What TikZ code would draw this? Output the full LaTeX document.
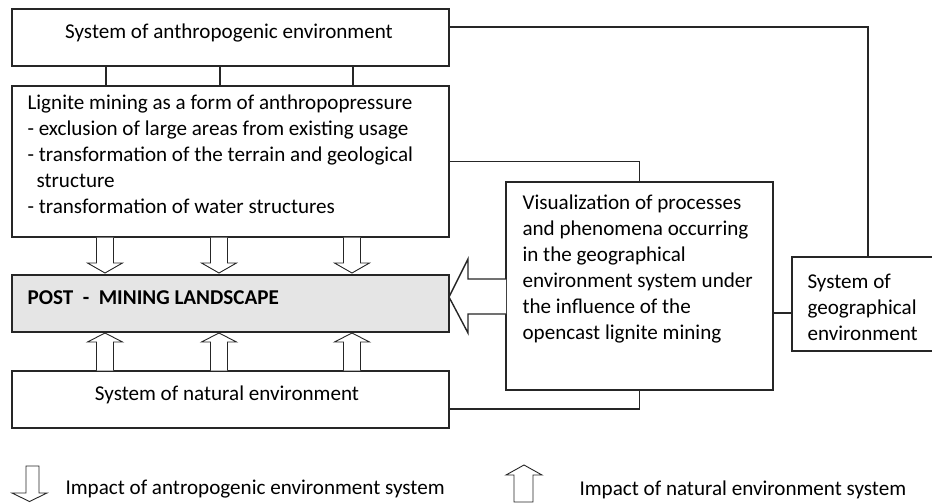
\documentclass[tikz,border=0pt]{standalone}
\usepackage{fontspec}
\setmainfont{Carlito}
\begin{document}
\begin{tikzpicture}[x=1pt,y=-1pt,line width=1.1pt,
  box/.style={draw=black!85, inner sep=0pt, outer sep=0pt},
  txt/.style={inner sep=0pt, align=left, font=\fontsize{21.1}{26}\selectfont},
  arr/.style={draw=black!85, line width=0.9pt, fill=white, line join=miter},
  conn/.style={draw=black!85}]
\path[use as bounding box, clip] (0,0) rectangle (932,503);
% boxes
\node[box, minimum width=437pt, minimum height=57pt] (top) at (230.5,37.5) {};
\node[box, minimum width=437pt, minimum height=151pt] (lig) at (230.5,161.5) {};
\node[box, fill=black!10, minimum width=437pt, minimum height=57pt] (post) at (230.5,303.5) {};
\node[box, minimum width=437pt, minimum height=57pt] (nat) at (230.5,399.5) {};
\node[box, minimum width=267pt, minimum height=208pt] (vis) at (639.5,286) {};
\node[box, minimum width=152pt, minimum height=94pt] (geo) at (868,304) {};
% texts
\node[txt] (toptxt) at (229,33) {System of anthropogenic environment};
\node[txt, anchor=west] (ligtxt) at (27,154) {Lignite mining as a form of anthropopressure\\- exclusion of large areas from existing usage\\- transformation of the terrain and geological\\\hspace*{9pt}structure\\- transformation of water structures};
\node[txt, anchor=west, font=\bfseries\fontsize{21.1}{26}\selectfont] (posttxt) at (27,298) {POST\ \ -\ \ MINING LANDSCAPE};
\node[txt] (nattxt) at (227,395) {System of natural environment};
\node[txt, anchor=west] (vistxt) at (522,269) {Visualization of processes\\and phenomena occurring\\in the geographical\\environment system under\\the influence of the\\opencast lignite mining};
\node[txt, anchor=west] (geotxt) at (807,307) {System of\\geographical\\environment};
\node[txt, anchor=west] (leg1) at (65,489) {Impact of antropogenic environment system};
\node[txt, anchor=west] (leg2) at (579,490) {Impact of natural environment system};
% connectors
\foreach \xx in {106,220,353} \draw[conn] (top.south -| \xx,0) -- (lig.north -| \xx,0);
\draw[conn] (top.east |- 0,27) -| (geo.north);
\draw[conn] (lig.east) -| (vis.north);
\draw[conn] (vis.east |- 0,313) -- (geo.west |- 0,313);
\draw[conn] (nat.east |- 0,409) -| (vis.south);
% down arrows
\foreach \xx in {105,219,352}
  \draw[arr] (\xx-8.5,237.5) -- (\xx-8.5,263) -- (\xx-17.5,263) -- (\xx,273) -- (\xx+17.5,263) -- (\xx+8.5,263) -- (\xx+8.5,237.5);
% up arrows
\foreach \xx in {105,219,352}
  \draw[arr] (\xx-8.5,370.5) -- (\xx-8.5,342) -- (\xx-17.5,342) -- (\xx,333) -- (\xx+17.5,342) -- (\xx+8.5,342) -- (\xx+8.5,370.5);
% big arrow
\draw[arr, line width=1.4pt] (vis.west |- 0,279) -- (468,279) -- (468,259) -- (449,297) -- (468,333) -- (468,314) -- (vis.west |- 0,314);
% legend arrows
\draw[arr] (26,466) -- (26,493) -- (12,493) -- (29.5,501.5) -- (47,493) -- (39,493) -- (39,466) -- cycle;
\draw[arr] (514,502) -- (514,475) -- (506,475) -- (524,465) -- (542,475) -- (533,475) -- (533,502) -- cycle;
\end{tikzpicture}
\end{document}
